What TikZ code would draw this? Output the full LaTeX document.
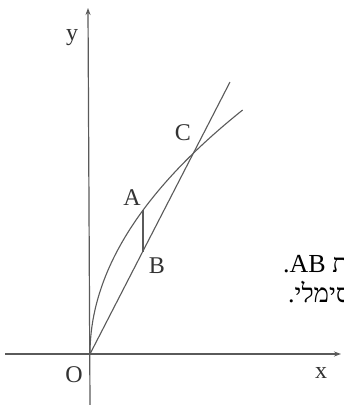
\documentclass[tikz,border=0pt]{standalone}
\usepackage{fontspec}
\setmainfont{Liberation Serif}
\newfontfamily\hebfont[Script=Hebrew]{Liberation Serif}
\TeXXeTstate=1
\usetikzlibrary{arrows.meta}
\definecolor{ink}{HTML}{5A5A5A}
\tikzset{
  axisline/.style={draw=ink, line width=1.2pt, -{Stealth[length=7pt,width=5pt]}},
  graphline/.style={draw=ink, line width=1.1pt},
  lbl/.style={font=\fontsize{24}{24}\selectfont, text=black!80, inner sep=0pt, anchor=base},
  hebtxt/.style={font=\fontsize{26}{26}\selectfont\hebfont, text=black, inner sep=0pt, anchor=base west}
}
\begin{document}
\begin{tikzpicture}[x=1pt,y=-1pt]
\useasboundingbox (0,0) rectangle (344,405);
\clip (0,0) rectangle (344,405);
\fill[white] (0,0) rectangle (344,405);
% axes
\coordinate (O) at (90,354);
\coordinate (ybot) at (90,405);
\coordinate (ytop) at (88,8);
\coordinate (xl) at (5,354);
\coordinate (xr) at (341,354);
\draw[axisline] (ybot) -- (ytop);
\draw[axisline] (xl) -- (xr);
% line
\coordinate (Lend) at (230,82);
\draw[graphline] (O) -- (Lend);
% curve x = Y^2/390
\draw[graphline] plot[domain=0:24.4, samples=120, variable=\t] ({90+\t*\t/3.9},{354-10*\t});
% segment AB
\coordinate (A) at (143,210);
\coordinate (B) at (143,252);
\draw[graphline] (A) -- (B);
% labels
\node[lbl] (ly) at (72,40) {y};
\node[lbl] (lx) at (321,378) {x};
\node[lbl] (lO) at (74,382) {O};
\node[lbl] (lA) at (132,205) {A};
\node[lbl] (lB) at (157,273) {B};
\node[lbl] (lC) at (183,140) {C};
% cut-off Hebrew text
\node[hebtxt] (t1) at (283,272) {\beginR את \beginL AB\endL.\endR};
\node[hebtxt] (t2) at (288,302) {\beginR המקסימלי.\endR};
\end{tikzpicture}
\end{document}
